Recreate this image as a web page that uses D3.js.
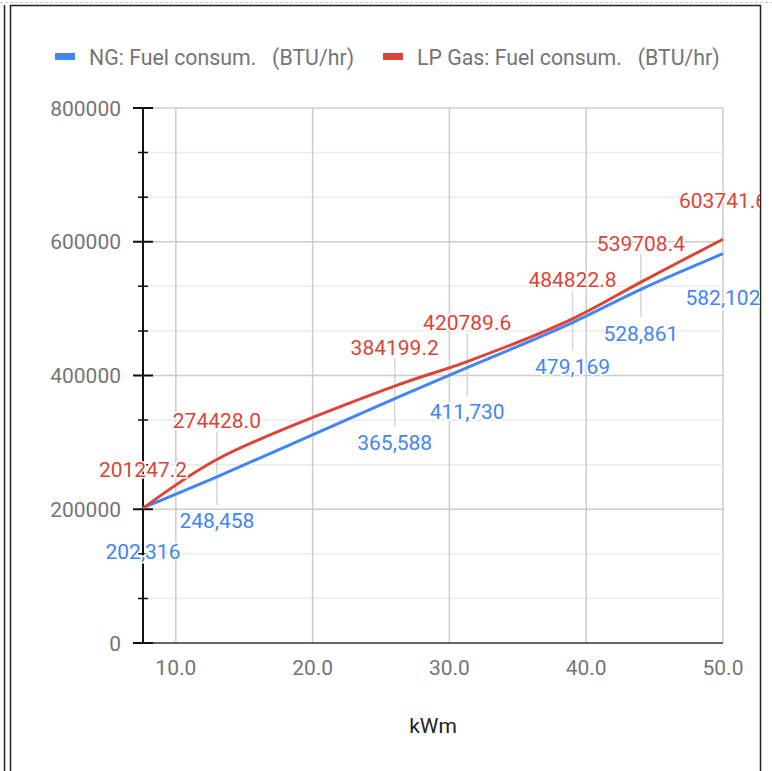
<!DOCTYPE html>
<html>
<head>
<meta charset="utf-8">
<script src="https://cdn.jsdelivr.net/npm/d3@7"></script>
<style>
  html, body { margin: 0; padding: 0; background: #fff; }
  svg { display: block; }
  text { font-family: Roboto, "Noto Sans", sans-serif; }
</style>
</head>
<body>
<svg id="chart" width="772" height="771"></svg>
<script>
// ---- data ----
const xValues = [7.6, 13, 26, 31.3, 39, 44, 50];
const ngValues = [202316, 248458, 365588, 411730, 479169, 528861, 582102];
const lpValues = [201247.2, 274428.0, 384199.2, 420789.6, 484822.8, 539708.4, 603741.6];
const xTicks = [10, 20, 30, 40, 50];
const yTicks = [0, 200000, 400000, 600000, 800000];
const seriesNames = ["NG: Fuel consum.   (BTU/hr)", "LP Gas: Fuel consum.   (BTU/hr)"];
const seriesColors = ["#4285f4", "#db4437"];
const xTitle = "kWm";

const svg = d3.select("#chart");
const W = 772, H = 771;

// ---- frame ----
svg.append("line").attr("x1", 0).attr("x2", W).attr("y1", 2.5).attr("y2", 2.5)
  .attr("stroke", "#c8c8c8").attr("stroke-width", 1).attr("stroke-dasharray", "3,2");
svg.append("line").attr("x1", 4.5).attr("x2", 4.5).attr("y1", 5).attr("y2", H)
  .attr("stroke", "#222").attr("stroke-width", 1.5);
svg.append("line").attr("x1", 10.5).attr("x2", 10.5).attr("y1", 5).attr("y2", H)
  .attr("stroke", "#222").attr("stroke-width", 1.5);
svg.append("line").attr("x1", 10).attr("x2", 761).attr("y1", 5.5).attr("y2", 5.5)
  .attr("stroke", "#222").attr("stroke-width", 1.5);
svg.append("line").attr("x1", 760.5).attr("x2", 760.5).attr("y1", 5).attr("y2", H)
  .attr("stroke", "#222").attr("stroke-width", 1.5);

svg.append("defs").append("clipPath").attr("id", "clip")
  .append("rect").attr("x", 11.5).attr("y", 6.5).attr("width", 748.5).attr("height", H - 6.5);

const g = svg.append("g").attr("clip-path", "url(#clip)");

// ---- scales ----
const x = d3.scaleLinear().domain([xValues[0], 50]).range([143, 723]);
const y = d3.scaleLinear().domain([0, 800000]).range([643, 108]);
const x0 = x.range()[0], x1 = x.range()[1];

// minor gridlines (thirds)
const minor = [];
for (let i = 0; i < yTicks.length - 1; i++) {
  const a = yTicks[i], b = yTicks[i + 1];
  minor.push(a + (b - a) / 3, a + 2 * (b - a) / 3);
}
g.selectAll(".minor").data(minor).join("line")
  .attr("x1", x0).attr("x2", x1)
  .attr("y1", d => y(d)).attr("y2", d => y(d))
  .attr("stroke", "#ebebeb").attr("stroke-width", 1.5);
g.selectAll(".hmajor").data(yTicks.slice(1)).join("line")
  .attr("x1", x0).attr("x2", x1)
  .attr("y1", d => y(d)).attr("y2", d => y(d))
  .attr("stroke", "#cccccc").attr("stroke-width", 1.5);
g.selectAll(".vmajor").data(xTicks).join("line")
  .attr("x1", d => x(d)).attr("x2", d => x(d))
  .attr("y1", y(800000)).attr("y2", y(0))
  .attr("stroke", "#cccccc").attr("stroke-width", 1.5);

// annotation stems
const stemLen = 28;
g.selectAll(".stem").data(xValues).join("line")
  .attr("x1", d => x(d)).attr("x2", d => x(d))
  .attr("y1", (d, i) => y(lpValues[i]) - stemLen)
  .attr("y2", (d, i) => y(ngValues[i]) + stemLen)
  .attr("stroke", "#d6d6d6").attr("stroke-width", 1.5);

// x baseline
g.append("line").attr("x1", x0).attr("x2", x1).attr("y1", y(0)).attr("y2", y(0))
  .attr("stroke", "#333").attr("stroke-width", 1.5);

// y axis line & ticks
g.append("line").attr("x1", x0).attr("x2", x0).attr("y1", y(800000)).attr("y2", y(0))
  .attr("stroke", "#111").attr("stroke-width", 2);
g.selectAll(".ytick").data(yTicks).join("line")
  .attr("x1", x0 - 10).attr("x2", x0 + 10)
  .attr("y1", d => y(d)).attr("y2", d => y(d))
  .attr("stroke", "#111").attr("stroke-width", 2);
g.selectAll(".ymtick").data(minor).join("line")
  .attr("x1", x0 - 5).attr("x2", x0 + 5)
  .attr("y1", d => y(d)).attr("y2", d => y(d))
  .attr("stroke", "#111").attr("stroke-width", 1.5);

// tick labels
g.selectAll(".ylab").data(yTicks).join("text")
  .attr("x", 121).attr("y", d => y(d) + 7.5)
  .attr("text-anchor", "end").attr("font-size", 21).attr("fill", "#757575")
  .text(d => d3.format("d")(d));
g.selectAll(".xlab").data(xTicks).join("text")
  .attr("x", d => x(d)).attr("y", 675)
  .attr("text-anchor", "middle").attr("font-size", 21).attr("fill", "#757575")
  .text(d => d3.format(".1f")(d));
g.append("text").attr("x", (x0 + x1) / 2).attr("y", 733)
  .attr("text-anchor", "middle").attr("font-size", 21).attr("fill", "#222")
  .text(xTitle);

// lines
const line = d3.line().x(d => x(d[0])).y(d => y(d[1])).curve(d3.curveCatmullRom.alpha(0.5));
const series = [ngValues, lpValues];
series.forEach((vals, si) => {
  g.append("path").datum(xValues.map((xv, i) => [xv, vals[i]]))
    .attr("d", line).attr("fill", "none")
    .attr("stroke", seriesColors[si]).attr("stroke-width", 3)
    .attr("stroke-linejoin", "round");
});

// annotations
g.selectAll(".ngann").data(xValues).join("text")
  .attr("x", d => x(d)).attr("y", (d, i) => y(ngValues[i]) + 51.5)
  .attr("text-anchor", "middle").attr("font-size", 21).attr("fill", seriesColors[0])
  .attr("stroke", "#fff").attr("stroke-width", 3).attr("paint-order", "stroke")
  .text((d, i) => d3.format(",")(ngValues[i]));
g.selectAll(".lpann").data(xValues).join("text")
  .attr("x", d => x(d)).attr("y", (d, i) => y(lpValues[i]) - 31.5)
  .attr("text-anchor", "middle").attr("font-size", 21).attr("fill", seriesColors[1])
  .attr("stroke", "#fff").attr("stroke-width", 3).attr("paint-order", "stroke")
  .text((d, i) => d3.format(".1f")(lpValues[i]));

// legend
const legendX = [55, 383];
seriesNames.forEach((name, i) => {
  g.append("rect").attr("x", legendX[i]).attr("y", 53).attr("width", 20).attr("height", 7)
    .attr("fill", seriesColors[i]);
  g.append("text").attr("x", legendX[i] + 34).attr("y", 64.5)
    .attr("font-size", 21.3).attr("fill", "#757575")
    .style("white-space", "pre")
    .text(name);
});
</script>
</body>
</html>
